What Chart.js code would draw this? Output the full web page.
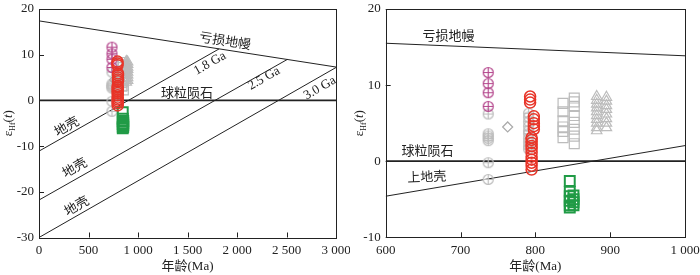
<!DOCTYPE html>
<html>
<head>
<meta charset="utf-8">
<script src="https://cdn.jsdelivr.net/npm/chart.js@4.4.0/dist/chart.umd.min.js"></script>
<style>
  html, body { margin: 0; padding: 0; background: #fff; }
  #wrap { display: flex; width: 700px; height: 275px; }
  .box { width: 350px; height: 275px; }
</style>
</head>
<body>
<div id="wrap">
  <div class="box"><canvas id="leftChart" width="350" height="275"></canvas></div>
  <div class="box"><canvas id="rightChart" width="350" height="275"></canvas></div>
</div>
<script>
// zircon Hf data (age in Ma, epsilon Hf(t))
const magentaAges = [737, 737, 737, 737];
const magentaEHf = [11.65, 10.2, 9.0, 7.2];

const greyCircleAges = [737, 737, 737, 737, 737, 737, 737,
  791, 791, 791, 791, 791, 791, 791, 791, 791, 791];
const greyCircleEHf = [6.2, 3.6, 3.3, 3.0, 2.7, -0.2, -2.4,
  6.3, 5.8, 5.2, 4.6, 4.0, 3.6, 3.0, 2.5, 2.0, 1.6];

const diamondAges = [763];
const diamondEHf = [4.5];

const redAges = [793, 793, 793,
  798, 798, 798, 798, 798,
  795, 795, 795, 795, 795, 795, 795, 795, 795, 795, 795];
const redEHf = [8.5, 8.1, 7.7,
  5.9, 5.5, 5.0, 4.6, 4.2,
  3.1, 2.8, 2.4, 2.0, 1.6, 1.1, 0.6, 0.2, -0.2, -0.6, -1.1];

const squareAges = [837, 837, 837, 837, 837, 837,
  852, 852, 852, 852, 852, 852, 852, 852];
const squareEHf = [7.6, 6.5, 5.3, 4.5, 3.9, 3.1,
  8.3, 7.8, 7.2, 6.0, 5.1, 4.2, 3.3, 2.3];

const triangleAges = [882, 882, 882, 882, 882, 882, 882, 882, 882, 882,
  895, 895, 895, 895, 895, 895, 895, 895];
const triangleEHf = [8.5, 8.0, 7.5, 7.0, 6.5, 6.0, 5.5, 5.0, 4.4, 4.0,
  8.4, 7.9, 7.3, 6.8, 6.2, 5.6, 5.0, 4.4];

const greenAges = [846, 846, 846, 846, 846, 846, 851, 851, 851, 851];
const greenEHf = [-2.6, -4.0, -4.6, -5.2, -5.8, -6.1, -4.5, -5.0, -5.4, -5.8];

// evolution lines (endpoints)
const dmLeftAge = [0, 3000], dmLeftEHf = [17.4, 7.3];
const churLeftAge = [0, 3000], churLeftEHf = [0, 0];
const crust18Age = [0, 1819], crust18EHf = [-11.1, 11.27];
const crust25Age = [0, 2508], crust25EHf = [-21.8, 8.96];
const crust30Age = [0, 3000], crust30EHf = [-30, 7.2];

const dmRightAge = [600, 1000], dmRightEHf = [15.5, 13.85];
const churRightAge = [600, 1000], churRightEHf = [0, 0];
const upperCrustAge = [600, 1000], upperCrustEHf = [-4.6, 2.05];

// axis ticks: min, max, step
const leftXTicks = [0, 3000, 500];
const leftYTicks = [-30, 20, 10];
const rightXTicks = [600, 1000, 100];
const rightYTicks = [-10, 20, 10];

const SERIF = "'Liberation Serif', 'Noto Sans CJK SC', serif";
const INK = '#222';
const GREY = 'rgb(188,188,188)';
const RED = 'rgb(232,52,40)';
const MAGENTA = 'rgb(180,70,140)';
const GREEN = 'rgb(32,155,70)';

function pts (ages, vals) {
  return ages.map((a, i) => ({ x: a, y: vals[i] }));
}

// circle with a cross inside
function crossCircle (color, r) {
  const c = document.createElement('canvas');
  const s = Math.ceil(r * 2 + 3);
  c.width = s; c.height = s;
  const g = c.getContext('2d');
  g.strokeStyle = color;
  g.lineWidth = 1.2;
  g.beginPath(); g.arc(s / 2, s / 2, r, 0, Math.PI * 2); g.stroke();
  g.beginPath();
  g.moveTo(s / 2, s / 2 - r); g.lineTo(s / 2, s / 2 + r);
  g.moveTo(s / 2 - r, s / 2); g.lineTo(s / 2 + r, s / 2);
  g.stroke();
  return c;
}

function lineSet (ages, vals, width) {
  return {
    data: pts(ages, vals),
    showLine: true,
    borderColor: INK,
    borderWidth: width || 1,
    pointRadius: 0,
    tension: 0
  };
}

function markerSets () {
  return [
    { data: pts(redAges, redEHf), pointStyle: 'circle', pointRadius: 5.5, borderColor: RED, borderWidth: 1.5, backgroundColor: 'transparent' },
    { data: pts(magentaAges, magentaEHf), pointStyle: crossCircle(MAGENTA, 5), borderColor: MAGENTA },
    { data: pts(greenAges, greenEHf), pointStyle: 'rect', pointRadius: 7, borderColor: GREEN, borderWidth: 2, backgroundColor: 'transparent' },
    { data: pts(diamondAges, diamondEHf), pointStyle: 'rectRot', pointRadius: 5, borderColor: 'rgb(170,170,170)', borderWidth: 1.2, backgroundColor: 'transparent' },
    { data: pts(greyCircleAges, greyCircleEHf), pointStyle: crossCircle(GREY, 5), borderColor: GREY },
    { data: pts(squareAges, squareEHf), pointStyle: 'rect', pointRadius: 7, borderColor: GREY, borderWidth: 1.2, backgroundColor: 'transparent' },
    { data: pts(triangleAges, triangleEHf), pointStyle: 'triangle', pointRadius: 6, borderColor: GREY, borderWidth: 1.2, backgroundColor: 'transparent' }
  ];
}

function fmt (v) {
  return String(v).replace(/\B(?=(\d{3})+(?!\d))/g, ' ');
}

// frame, inward ticks, axis titles and line labels
function decorPlugin (labels, yTitleX) {
  return {
    id: 'decor',
    afterDraw (chart) {
      const { ctx, chartArea: a, scales: { x, y } } = chart;
      ctx.save();
      ctx.strokeStyle = INK;
      ctx.lineWidth = 1;
      ctx.strokeRect(Math.round(a.left) + 0.5, Math.round(a.top) + 0.5,
        Math.round(a.right - a.left), Math.round(a.bottom - a.top));
      ctx.beginPath();
      x.ticks.forEach(t => {
        const px = Math.round(x.getPixelForValue(t.value)) + 0.5;
        ctx.moveTo(px, a.bottom); ctx.lineTo(px, a.bottom - 5);
      });
      y.ticks.forEach(t => {
        const py = Math.round(y.getPixelForValue(t.value)) + 0.5;
        ctx.moveTo(a.left, py); ctx.lineTo(a.left + 5, py);
      });
      ctx.stroke();

      ctx.fillStyle = INK;
      ctx.textBaseline = 'middle';
      ctx.textAlign = 'center';
      ctx.font = '13px ' + SERIF;
      ctx.fillText('年龄(Ma)', (a.left + a.right) / 2, 267);

      // y title: eps Hf (t)
      ctx.save();
      ctx.translate(yTitleX, (a.top + a.bottom) / 2);
      ctx.rotate(-Math.PI / 2);
      const parts = [
        { t: 'ε', f: '13px ' + SERIF, dy: 0 },
        { t: 'Hf', f: '8px ' + SERIF, dy: 3 },
        { t: '(', f: '13px ' + SERIF, dy: 0 },
        { t: 't', f: 'italic 13px ' + SERIF, dy: 0 },
        { t: ')', f: '13px ' + SERIF, dy: 0 }
      ];
      let w = 0;
      parts.forEach(p => { ctx.font = p.f; p.w = ctx.measureText(p.t).width; w += p.w; });
      let cx = -w / 2;
      ctx.textAlign = 'left';
      ctx.textBaseline = 'alphabetic';
      parts.forEach(p => { ctx.font = p.f; ctx.fillText(p.t, cx, 4 + p.dy); cx += p.w; });
      ctx.restore();

      // labels on the evolution lines
      ctx.textAlign = 'center';
      ctx.textBaseline = 'middle';
      labels.forEach(l => {
        let ang = 0;
        if (l.along) {
          const [ax, bx] = l.along[0];
          const [ay, by] = l.along[1];
          ang = Math.atan2(y.getPixelForValue(by) - y.getPixelForValue(ay),
            x.getPixelForValue(bx) - x.getPixelForValue(ax));
        }
        ctx.save();
        ctx.translate(x.getPixelForValue(l.x), y.getPixelForValue(l.y));
        ctx.rotate(ang);
        ctx.font = '13px ' + SERIF;
        ctx.fillText(l.text, 0, 0);
        ctx.restore();
      });
      ctx.restore();
    }
  };
}

function makeChart (id, cfg) {
  return new Chart(document.getElementById(id), {
    type: 'scatter',
    data: { datasets: cfg.datasets },
    options: {
      responsive: false,
      animation: false,
      devicePixelRatio: 1,
      layout: { padding: { left: 0, right: cfg.padRight, top: cfg.padTop, bottom: 0 } },
      plugins: { legend: { display: false }, tooltip: { enabled: false } },
      scales: {
        x: {
          type: 'linear',
          min: cfg.xTicks[0],
          max: cfg.xTicks[1],
          grid: { display: false, drawTicks: false, tickLength: 0 },
          border: { display: false },
          ticks: { stepSize: cfg.xTicks[2], autoSkip: false, maxRotation: 0, padding: 5, color: INK, font: { family: SERIF, size: 13 }, callback: v => fmt(v) },
          afterFit (s) { s.height = cfg.xHeight; s.paddingLeft = 0; s.paddingRight = 0; }
        },
        y: {
          type: 'linear',
          min: cfg.yTicks[0],
          max: cfg.yTicks[1],
          grid: { display: false, drawTicks: false, tickLength: 0 },
          border: { display: false },
          ticks: { stepSize: cfg.yTicks[2], autoSkip: false, padding: 5, color: INK, font: { family: SERIF, size: 13 }, callback: v => String(v) },
          afterFit (s) { s.width = cfg.yWidth; s.paddingTop = 0; s.paddingBottom = 0; }
        }
      }
    },
    plugins: [decorPlugin(cfg.labels, cfg.yTitleX)]
  });
}

makeChart('leftChart', {
  xTicks: leftXTicks,
  yTicks: leftYTicks,
  padRight: 14,
  padTop: 4.5,
  xHeight: 37.5,
  yWidth: 39,
  yTitleX: 8,
  datasets: markerSets().concat([
    lineSet(dmLeftAge, dmLeftEHf),
    lineSet(churLeftAge, churLeftEHf, 1.8),
    lineSet(crust18Age, crust18EHf),
    lineSet(crust25Age, crust25EHf),
    lineSet(crust30Age, crust30EHf)
  ]),
  labels: [
    { text: '亏损地幔', x: 1879, y: 12.8, along: [dmLeftAge, dmLeftEHf] },
    { text: '1.8 Ga', x: 1727, y: 8.1, along: [crust18Age, crust18EHf] },
    { text: '2.5 Ga', x: 2273, y: 4.8, along: [crust25Age, crust25EHf] },
    { text: '3.0 Ga', x: 2838, y: 2.7, along: [crust30Age, crust30EHf] },
    { text: '球粒陨石', x: 1495, y: 1.6 },
    { text: '地壳', x: 283, y: -5.9, along: [crust18Age, crust18EHf] },
    { text: '地壳', x: 364, y: -14.9, along: [crust25Age, crust25EHf] },
    { text: '地壳', x: 384, y: -23.3, along: [crust30Age, crust30EHf] }
  ]
});

makeChart('rightChart', {
  xTicks: rightXTicks,
  yTicks: rightYTicks,
  padRight: 15,
  padTop: 4.3,
  xHeight: 37.7,
  yWidth: 35.7,
  yTitleX: 9,
  datasets: markerSets().concat([
    lineSet(dmRightAge, dmRightEHf),
    lineSet(churRightAge, churRightEHf, 1.8),
    lineSet(upperCrustAge, upperCrustEHf)
  ]),
  labels: [
    { text: '亏损地幔', x: 684, y: 16.4 },
    { text: '球粒陨石', x: 656, y: 1.3 },
    { text: '上地壳', x: 655, y: -2.2, along: [[600, 1000], [-1.5, 0]] }
  ]
});
</script>
</body>
</html>
